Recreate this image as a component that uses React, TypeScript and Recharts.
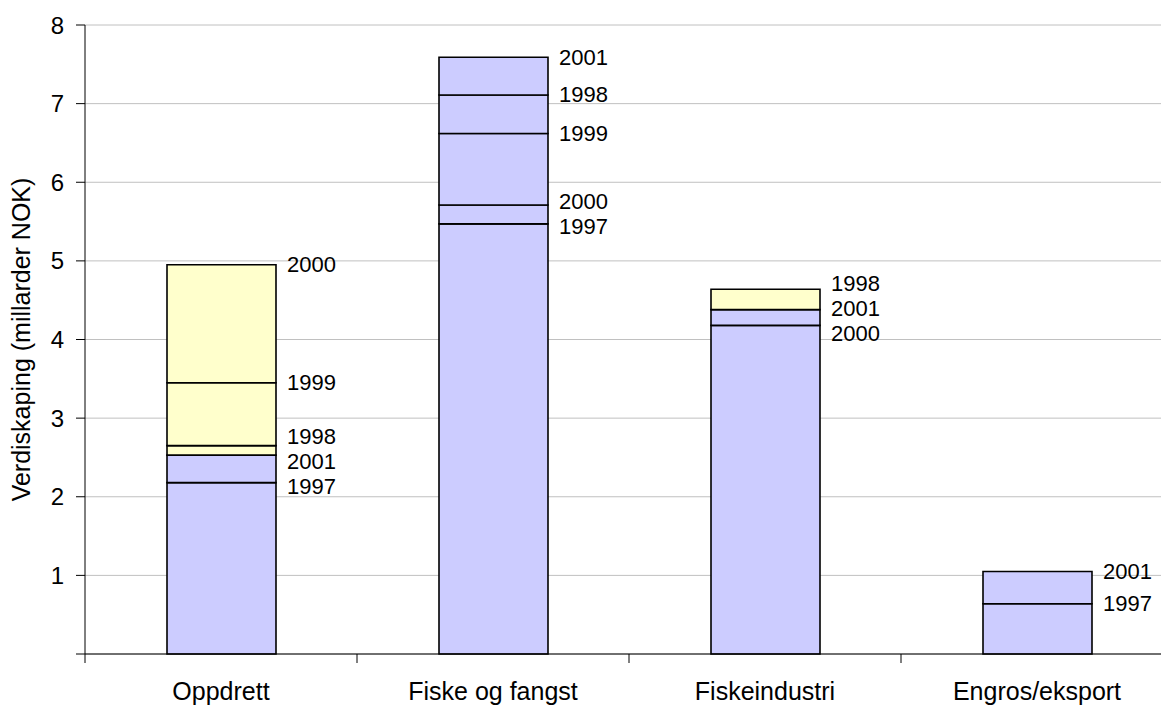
import React from 'react';
import { BarChart, Bar, XAxis, YAxis, CartesianGrid, Cell, ReferenceDot } from 'recharts';

const categories = ['Oppdrett', 'Fiske og fangst', 'Fiskeindustri', 'Engros/eksport'];
const years = ['1997', '1998', '1999', '2000', '2001'];
const v1997: (number | null)[] = [2.18, 5.47, null, 0.64];
const v1998: (number | null)[] = [2.65, 7.11, 4.64, null];
const v1999: (number | null)[] = [3.45, 6.62, null, null];
const v2000: (number | null)[] = [4.95, 5.71, 4.18, null];
const v2001: (number | null)[] = [2.53, 7.59, 4.38, 1.05];
const yTicks = [0, 1, 2, 3, 4, 5, 6, 7, 8];

const seriesByYear = [v1997, v1998, v1999, v2000, v2001];
const refSeries = v2001;

const LAVENDER = '#CCCCFF';
const YELLOW = '#FFFFCC';
const FONT = '"Liberation Sans", Arial, Helvetica, sans-serif';
const MAX_SEG = 5;
const LABEL_GAP = 0.318; // minimum label spacing in value units

type Pt = { year: string; v: number; pos: number };

const sortedPoints = (ci: number): Pt[] =>
  years
    .map((y, yi) => ({ year: y, v: seriesByYear[yi][ci] as number, pos: seriesByYear[yi][ci] as number }))
    .filter((p) => p.v != null)
    .sort((a, b) => a.v - b.v);

const rows = categories.map((cat, ci) => {
  const pts = sortedPoints(ci);
  const ref = refSeries[ci] as number;
  const row: any = { cat };
  let prev = 0;
  pts.forEach((p, i) => {
    row['s' + i] = +(p.v - prev).toFixed(4);
    row['c' + i] = p.v > ref + 1e-9 ? YELLOW : LAVENDER;
    prev = p.v;
  });
  return row;
});

const labels = categories.flatMap((cat, ci) => {
  const pts = sortedPoints(ci);
  for (let it = 0; it < 300; it++) {
    for (let i = 1; i < pts.length; i++) {
      const d = pts[i].pos - pts[i - 1].pos;
      if (d < LABEL_GAP) {
        const push = (LABEL_GAP - d) / 2;
        pts[i].pos += push;
        pts[i - 1].pos -= push;
      }
    }
  }
  return pts.map((p) => ({ cat, year: p.year, pos: p.pos }));
});

const CatTick = (props: any) => {
  const { x, y, payload, index, visibleTicksCount } = props;
  const off = payload && payload.offset ? payload.offset : 136;
  return (
    <g>
      <line x1={x - off} x2={x - off} y1={y} y2={y + 9} stroke="#000" strokeWidth={1} />
      {index === (visibleTicksCount ?? 4) - 1 && (
        <line x1={x + off} x2={x + off} y1={y} y2={y + 9} stroke="#000" strokeWidth={1} />
      )}
      <text x={x} y={y + 46} textAnchor="middle" fontSize={25} fill="#000" fontFamily={FONT}>
        {payload.value}
      </text>
    </g>
  );
};

const YTitle = (props: any) => {
  const vb = props.viewBox || { x: 0, y: 25, width: 85, height: 629 };
  const cx = vb.x + 21;
  const cy = vb.y + vb.height / 2;
  return (
    <text
      x={cx}
      y={cy}
      transform={`rotate(-90 ${cx} ${cy})`}
      textAnchor="middle"
      dominantBaseline="central"
      fontSize={25}
      fill="#000"
      fontFamily={FONT}
    >
      Verdiskaping (millarder NOK)
    </text>
  );
};

export default function App() {
  return (
    <div style={{ width: 1161, height: 706, overflow: 'hidden', background: '#fff', fontFamily: FONT }}>
      <style>{'body{margin:0;overflow:hidden;background:#fff}'}</style>
      <BarChart
        width={1200}
        height={706}
        data={rows}
        margin={{ top: 25, right: 27, left: 0, bottom: 0 }}
        barSize={109}
      >
        <CartesianGrid horizontal vertical={false} stroke="#c0c0c0" strokeWidth={1} />
        <XAxis
          dataKey="cat"
          height={52}
          interval={0}
          axisLine={{ stroke: '#000', strokeWidth: 1 }}
          tickLine={false}
          tickSize={0}
          tickMargin={0}
          tick={<CatTick />}
        />
        <YAxis
          type="number"
          domain={[0, 8]}
          ticks={yTicks}
          width={85}
          axisLine={{ stroke: '#000', strokeWidth: 1 }}
          tickLine={{ stroke: '#000' }}
          tickSize={9}
          tickMargin={12}
          tick={{ fill: '#000', fontSize: 24, fontFamily: FONT }}
          tickFormatter={(v: number) => (v === 0 ? '' : String(v))}
          label={{ content: <YTitle /> }}
        />
        {Array.from({ length: MAX_SEG }).map((_, i) => (
          <Bar
            key={'s' + i}
            dataKey={'s' + i}
            stackId="a"
            stroke="#000"
            strokeWidth={1.6}
            isAnimationActive={false}
          >
            {rows.map((r, ri) => (
              <Cell key={ri} fill={r['c' + i] || LAVENDER} />
            ))}
          </Bar>
        ))}
        {labels.map((l) => (
          <ReferenceDot
            key={l.cat + l.year}
            x={l.cat}
            y={l.pos}
            r={0}
            ifOverflow="visible"
            shape={(p: any) => (
              <text
                x={p.cx + 66}
                y={p.cy}
                dominantBaseline="central"
                fontSize={22}
                fill="#000"
                fontFamily={FONT}
              >
                {l.year}
              </text>
            )}
          />
        ))}
      </BarChart>
    </div>
  );
}
